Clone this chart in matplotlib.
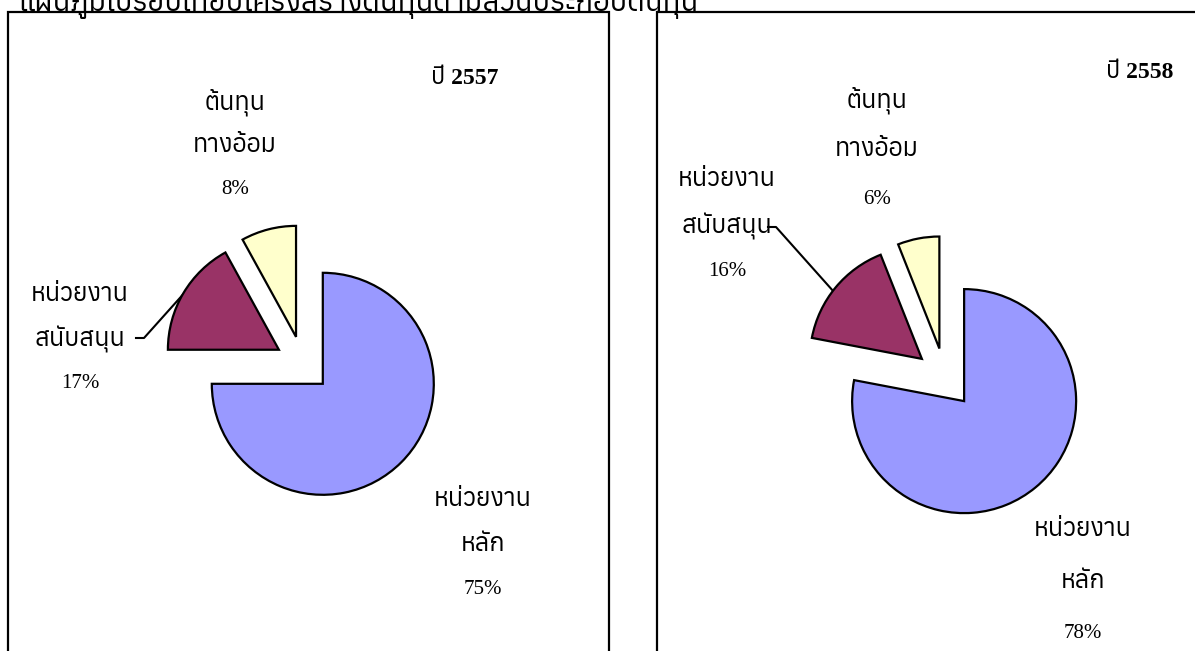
import matplotlib
matplotlib.use('Agg')
import matplotlib.pyplot as plt
from matplotlib import font_manager as fm
from matplotlib.ft2font import FT2Font

# data
title = 'แผนภูมิเปรียบเทียบโครงสร้างต้นทุนตามส่วนประกอบต้นทุน'
years = ['ปี 2557', 'ปี 2558']
categories = ['หน่วยงาน\nหลัก', 'หน่วยงาน\nสนับสนุน', 'ต้นทุน\nทางอ้อม']
values_2557 = [75, 17, 8]
values_2558 = [78, 16, 6]
colors = ['#9999FF', '#993366', '#FFFFCC']

# find an installed font that has Thai glyphs
thai = []
for f in fm.fontManager.ttflist:
    try:
        if ord('ก') in FT2Font(f.fname).get_charmap():
            thai.append(f.name)
    except Exception:
        pass
thai = sorted(set(thai))
serif = ['Liberation Serif'] + thai + ['DejaVu Sans']
sans = ['Liberation Sans'] + thai + ['DejaVu Sans']

W, H = 1195, 651
fig = plt.figure(figsize=(W / 100, H / 100), dpi=100)
ax = fig.add_axes([0, 0, 1, 1])


def Y(y):
    # image pixel row -> data y
    return H - y


# panel frames (bottom / right edges fall outside the picture)
for x0, x1 in [(8, 609), (657, 1230)]:
    ax.plot([x0, x0, x1, x1], [Y(700), Y(12), Y(12), Y(700)], color='black', lw=1.6,
            solid_joinstyle='miter', zorder=1)

panels = [
    dict(vals=values_2557, center=(303, 364), r=111, expl=28,
         lab_pos=[(483, 500, 45), (80, 295, 44.5), (235, 102, 44)],
         year_pos=(465, 78), leader=[(136, 338), (144, 338), (187, 290)]),
    dict(vals=values_2558, center=(945, 378), r=112, expl=30,
         lab_pos=[(1083, 530, 52), (727, 180, 46), (877, 100, 50)],
         year_pos=(1140, 72), leader=[(768, 227), (776, 227), (834, 292)]),
]

for p, year in zip(panels, years):
    cx, cy = p['center']
    r = p['r']
    ax.pie(p['vals'], colors=colors, startangle=90, counterclock=False,
           explode=[p['expl']] * 3, radius=r, center=(cx, Y(cy)), frame=True,
           wedgeprops=dict(edgecolor='black', linewidth=1.6, joinstyle='miter'))
    for cat, v, (lx, ly, step) in zip(categories, p['vals'], p['lab_pos']):
        lines = cat.split('\n') + [f'{v}%']
        for i, s in enumerate(lines):
            ax.text(lx, Y(ly + i * step), s, ha='center', va='center',
                    fontsize=15 if s.endswith('%') else 18, family=serif, zorder=5)
    xs = [q[0] for q in p['leader']]
    ys = [Y(q[1]) for q in p['leader']]
    ax.plot(xs, ys, color='black', lw=1.5, zorder=0)
    ax.text(p['year_pos'][0], Y(p['year_pos'][1]), year, ha='center', va='center',
            fontsize=17, fontweight='bold', family=serif)

# title sits mostly above the top edge, as in the reference
ax.text(18, Y(11), title, ha='left', va='baseline', fontsize=21, fontweight='bold',
        family=sans)

ax.set_xlim(0, W)
ax.set_ylim(0, H)
ax.set_aspect('auto')
ax.axis('off')

fig.savefig('out.png', dpi=100)
